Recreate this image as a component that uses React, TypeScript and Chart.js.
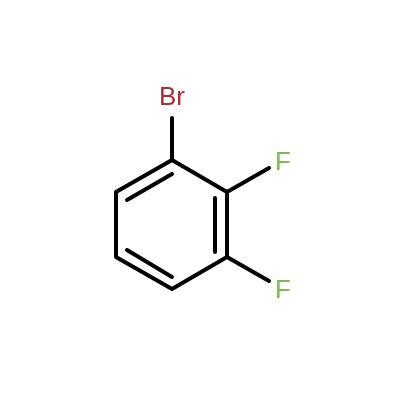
import React, { useEffect, useRef } from 'react';
import { Chart, registerables } from 'chart.js';

Chart.register(...registerables);

type Pt = { x: number; y: number };

// all values are in picture units, y going down
const ringBonds: Pt[] = [
  { x: 172, y: 160 },
  { x: 227, y: 192 },
  { x: 227, y: 257 },
  { x: 172, y: 289 },
  { x: 116, y: 257 },
  { x: 116, y: 192 },
  { x: 172, y: 160 },
];
const bromineBond: Pt[] = [{ x: 172, y: 160 }, { x: 172, y: 118 }];
const fluorineBondTop: Pt[] = [{ x: 227, y: 192 }, { x: 269, y: 168 }];
const fluorineBondBottom: Pt[] = [{ x: 227, y: 257 }, { x: 269, y: 281 }];
const innerBondLeft: Pt[] = [{ x: 127, y: 200 }, { x: 172, y: 174 }];
const innerBondRight: Pt[] = [{ x: 215, y: 198 }, { x: 215, y: 252 }];
const innerBondBottom: Pt[] = [{ x: 127, y: 250 }, { x: 172, y: 277 }];

// label anchors sit on the text baseline
const atomLabels = ['Br', 'F', 'F'];
const atomX = [172, 283, 283];
const atomY = [105, 169.5, 298];
const atomColors = ['#a62e3a', '#7cba54', '#7cba54'];

const allBonds = [
  ringBonds,
  bromineBond,
  fluorineBondTop,
  fluorineBondBottom,
  innerBondLeft,
  innerBondRight,
  innerBondBottom,
];

const atomLabelPlugin = {
  id: 'atomLabels',
  afterDatasetsDraw(chart: Chart) {
    const { ctx, scales } = chart;
    ctx.save();
    ctx.font = '26px "Liberation Sans", Arial, sans-serif';
    ctx.textAlign = 'center';
    ctx.textBaseline = 'alphabetic';
    atomLabels.forEach((label, i) => {
      ctx.fillStyle = atomColors[i];
      ctx.fillText(label, scales.x.getPixelForValue(atomX[i]), scales.y.getPixelForValue(atomY[i]));
    });
    ctx.restore();
  },
};

export default function App() {
  const chartRef = useRef<HTMLCanvasElement>(null);

  useEffect(() => {
    if (!chartRef.current) return;

    const chart = new Chart(chartRef.current, {
      type: 'scatter',
      data: {
        datasets: allBonds.map(bond => ({
          data: bond,
          showLine: true,
          borderColor: '#000',
          borderWidth: 4,
          borderCapStyle: 'round' as const,
          borderJoinStyle: 'round' as const,
          pointRadius: 0,
          tension: 0,
        })),
      },
      options: {
        animation: false,
        responsive: false,
        layout: { padding: 0 },
        plugins: {
          legend: { display: false },
          tooltip: { enabled: false },
        },
        scales: {
          x: { type: 'linear', display: false, min: 0, max: 400 },
          y: { type: 'linear', display: false, min: 0, max: 400, reverse: true },
        },
      },
      plugins: [atomLabelPlugin],
    });

    return () => chart.destroy();
  }, []);

  return (
    <div style={{ position: 'fixed', left: 0, top: 0, width: 400, height: 400, background: '#fff' }}>
      <canvas ref={chartRef} width={400} height={400} style={{ display: 'block' }}></canvas>
    </div>
  );
}
